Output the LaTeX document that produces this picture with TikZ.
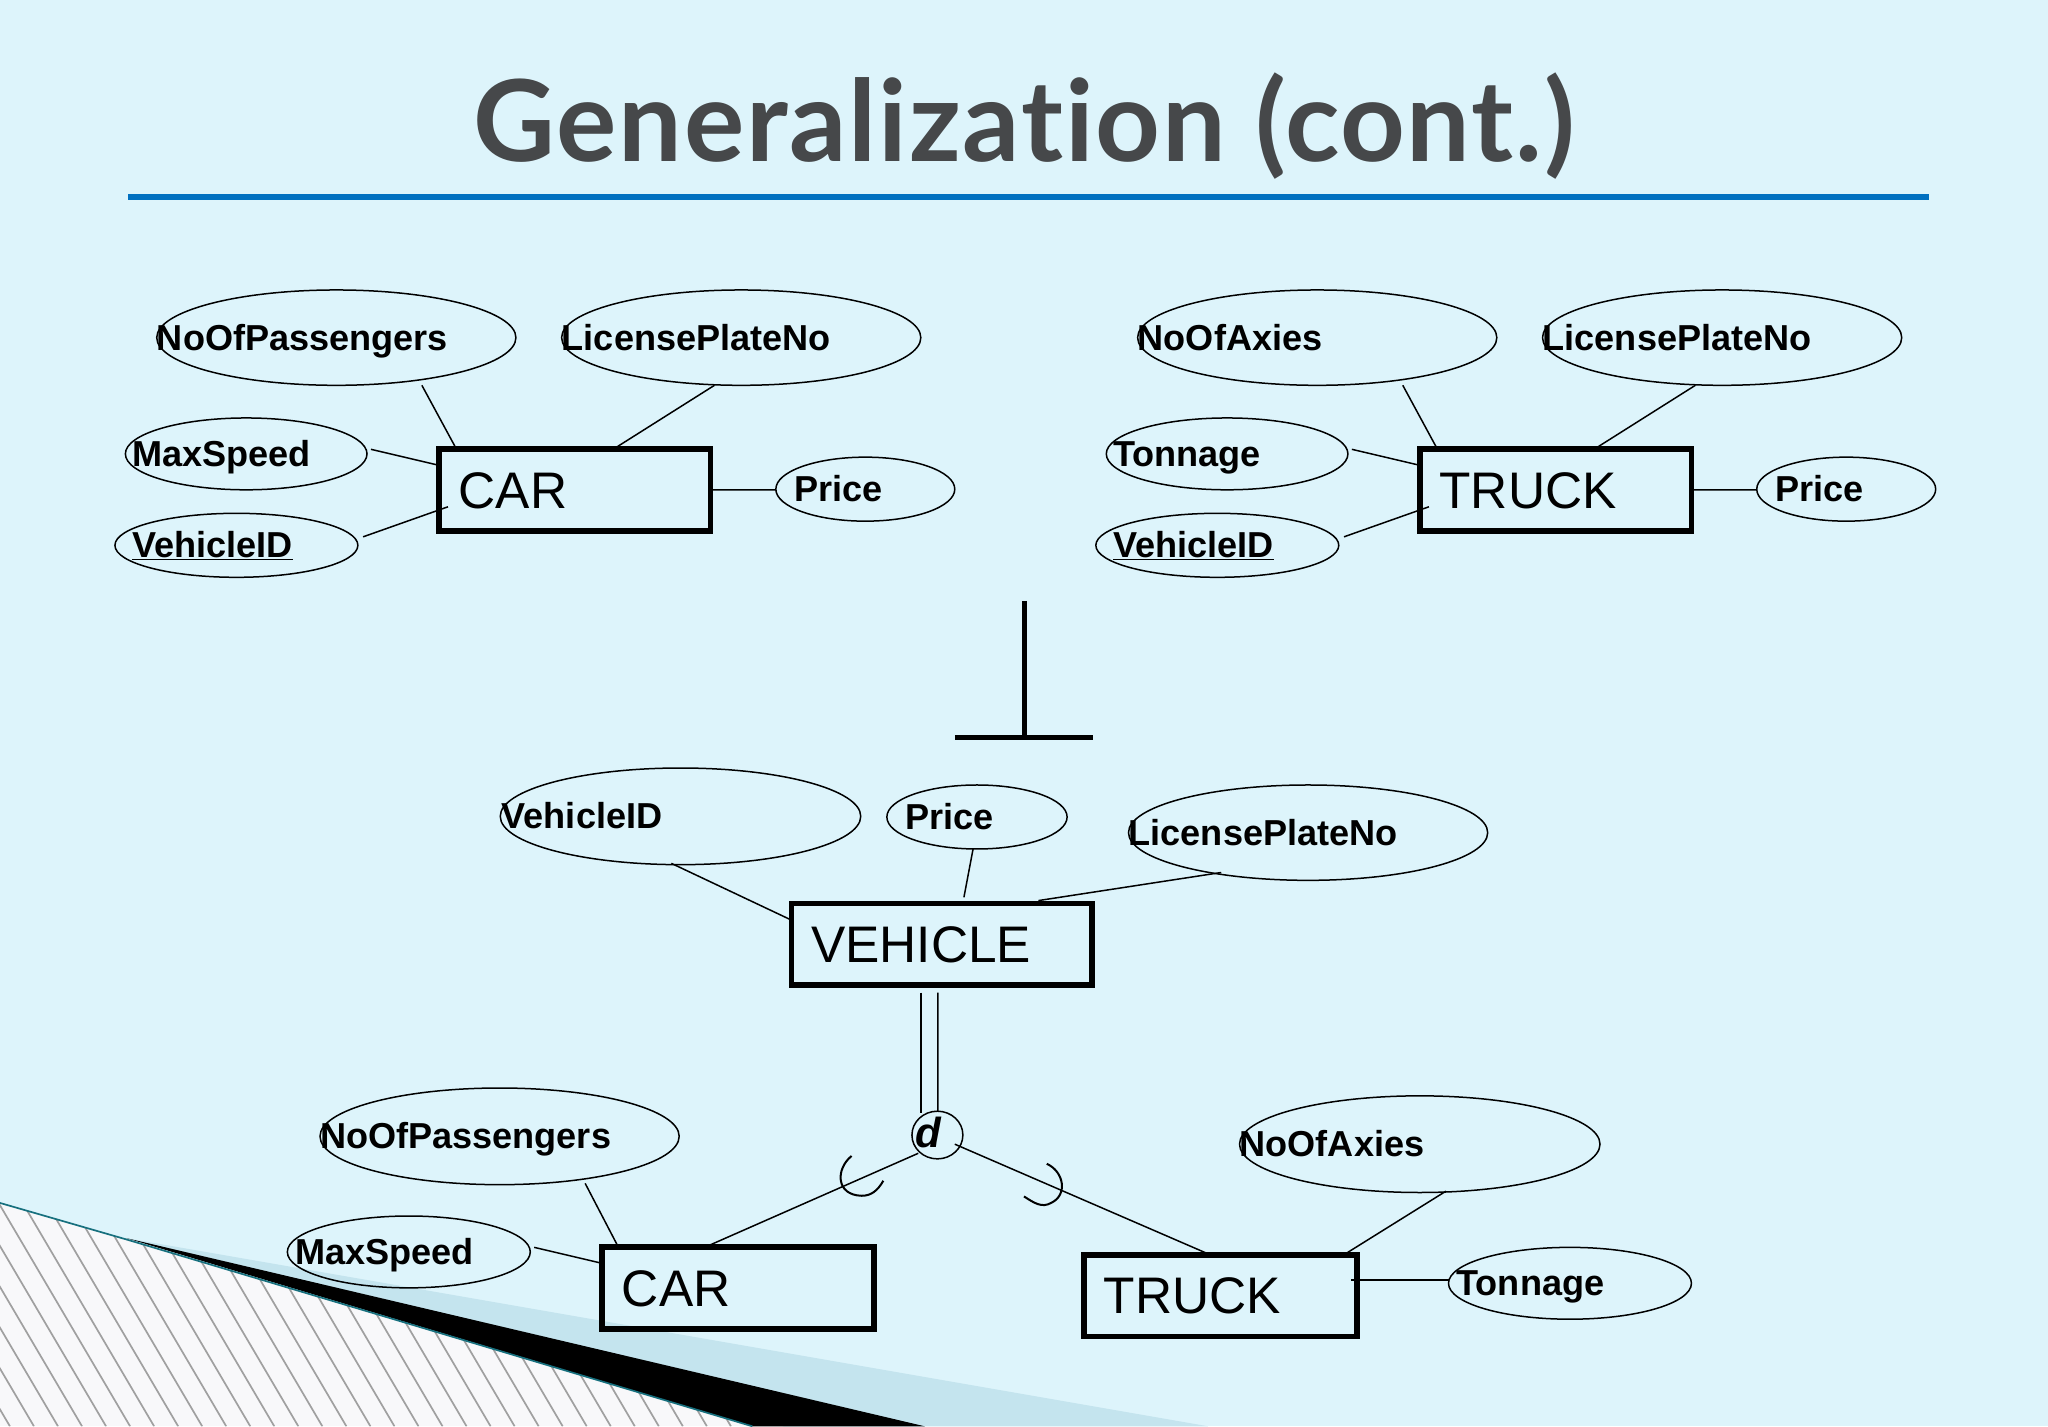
\documentclass[tikz,border=0pt]{standalone}
\usepackage{fontspec}
\setmainfont{Liberation Sans}
\newfontfamily\titlefont{Lato}[Ligatures=NoCommon,LetterSpace=1.6]
\usetikzlibrary{shapes.geometric}
\definecolor{bgc}{HTML}{DDF4FB}
\definecolor{wedgec}{HTML}{C4E4EE}
\definecolor{hatchc}{HTML}{F8F8FA}
\definecolor{stripec}{HTML}{A0A0A0}
\definecolor{tealc}{HTML}{17707E}
\definecolor{titlec}{HTML}{46484A}
\definecolor{rulec}{HTML}{0070C0}
\tikzset{
  attr/.style={draw=black,line width=1.5pt,ellipse,inner sep=0pt,outer sep=0pt},
  ent/.style={draw=black,line width=5.7pt,rectangle,inner sep=0pt,outer sep=0pt},
  conn/.style={draw=black,line width=1.5pt},
  atext/.style={anchor=base west,inner sep=0pt,font=\fontsize{36.1}{36}\selectfont\bfseries},
  etext/.style={anchor=base west,inner sep=0pt,font=\fontsize{51.4}{52}\selectfont},
}
% name, cx, cy, w, h, text x, text
\newcommand{\attrnode}[7]{%
  \node[attr,minimum width=#4*1.3061pt,minimum height=#5*1.3061pt] (#1) at (#2,#3) {};
  \node[atext] (#1t) at (#6,#3+9.6) {#7};
}
% name, cx, cy, w, h, text x, text
\newcommand{\entnode}[7]{%
  \node[ent,minimum width=#4*1.3061pt,minimum height=#5*1.3061pt] (#1) at (#2,#3) {};
  \node[etext] (#1t) at (#6,#3+14) {#7};
}
\newcommand{\link}[4]{%
  \draw[conn] ([shift={(#2)}]#1.center) -- ([shift={(#4)}]#3.center);
}
\begin{document}
\begin{tikzpicture}[x=1.3061pt,y=-1.3061pt]
\useasboundingbox (0,0) rectangle (1568,1092);
\fill[bgc] (0,0) rectangle (1568,1092);
% decoration
\fill[wedgec] (97,948) -- (925,1092) -- (600,1092) -- cycle;
\fill[black] (97,948) -- (708,1092) -- (576,1092) -- cycle;
\begin{scope}
  \clip (0,921) -- (97,949) -- (576,1092) -- (0,1092) -- cycle;
  \fill[hatchc] (0,900) rectangle (600,1092);
  \foreach \i in {-8,...,34}
    \draw[stripec,line width=1.7pt] (-13.4+\i*18.4,900) -- (99.6+\i*18.4,1092);
\end{scope}
\draw[tealc,line width=1.7pt] (0,921) -- (97,949) -- (576,1092);
% title
\node[inner sep=0pt,text=titlec,anchor=base,font=\titlefont\fontsize{113}{113}\selectfont\bfseries] (title) at (784,123.5) {Generalization (cont.)};
\coordinate (ruleL) at (98,150.8);
\coordinate (ruleR) at (1477,150.8);
\draw[rulec,line width=6pt] (ruleL) -- (ruleR);
% CAR group
\entnode{car}{440}{375}{208}{62.6}{351}{CAR}
\attrnode{np}{257.5}{258.5}{275}{73}{120}{NoOfPassengers}
\attrnode{lp}{567.5}{258.5}{275}{73}{430}{LicensePlateNo}
\attrnode{ms}{188.5}{347.5}{185}{55}{101}{MaxSpeed}
\attrnode{vid}{181}{417.5}{186}{49}{101}{\underline{VehicleID}}
\attrnode{pr}{662.5}{374.5}{137}{49}{608}{Price}
\link{np}{65.5,36.5}{car}{-91,-32}
\link{lp}{-20.5,36.5}{car}{31,-32}
\link{ms}{95.5,-3.5}{car}{-105,-19}
\link{vid}{97,-6.5}{car}{-97,13}
\link{pr}{-68.5,0.5}{car}{105,0}
% TRUCK group
\entnode{truck}{1191}{375}{208}{62.6}{1102}{TRUCK}
\attrnode{na}{1008.5}{258.5}{275}{73}{871}{NoOfAxies}
\attrnode{lpb}{1318.5}{258.5}{275}{73}{1181}{LicensePlateNo}
\attrnode{tn}{939.5}{347.5}{185}{55}{852}{Tonnage}
\attrnode{vidb}{932}{417.5}{186}{49}{852}{\underline{VehicleID}}
\attrnode{prb}{1413.5}{374.5}{137}{49}{1359}{Price}
\link{na}{65.5,36.5}{truck}{-91,-32}
\link{lpb}{-20.5,36.5}{truck}{31,-32}
\link{tn}{95.5,-3.5}{truck}{-105,-19}
\link{vidb}{97,-6.5}{truck}{-97,13}
\link{prb}{-68.5,0.5}{truck}{105,0}
% generalization symbol
\coordinate (ta) at (784,460);
\coordinate (tb) at (784,564.5);
\coordinate (tc) at (731,564.5);
\coordinate (td) at (837,564.5);
\draw[line width=5pt] (ta) -- (tb);
\draw[line width=5.5pt] (tc) -- (td);
% VEHICLE group
\entnode{veh}{721}{723}{230}{62.6}{621}{VEHICLE}
\attrnode{vv}{521}{625}{276}{74}{384}{VehicleID}
\attrnode{vp}{748}{625.5}{138}{49}{693}{Price}
\attrnode{vl}{1001.5}{637.5}{275}{73}{864}{LicensePlateNo}
\link{vv}{-7,36}{veh}{-116,-19}
\link{vp}{-3,24.5}{veh}{17,-36}
\link{vl}{-66.5,30.5}{veh}{74,-33.5}
% d circle
\node[attr,minimum width=39*1.3061pt,minimum height=36.5*1.3061pt] (dc) at (717.7,869) {};
\node[inner sep=0pt,font=\fontsize{42}{42}\selectfont\bfseries\itshape] (dt) at (710.7,867) {d};
\link{veh}{-16,37}{dc}{-12.7,-17}
\link{veh}{-3,37}{dc}{0.3,-18}
% lower CAR / TRUCK
\entnode{carb}{565}{986}{208}{62.6}{476}{CAR}
\entnode{truckb}{934.5}{992}{209}{62.6}{845}{TRUCK}
\attrnode{npb}{382.5}{870}{275}{74}{245}{NoOfPassengers}
\attrnode{msb}{313}{958.5}{186}{55}{226}{MaxSpeed}
\attrnode{nab}{1087}{876}{276}{74}{949}{NoOfAxies}
\attrnode{tnb}{1202}{982.5}{186}{55}{1115}{Tonnage}
\link{dc}{-14.7,14}{carb}{-21,-33}
\link{dc}{13.3,7}{truckb}{-9.5,-32}
\link{npb}{65.5,36}{carb}{-92,-32}
\link{msb}{96,-3.5}{carb}{-105,-19}
\link{nab}{20,36}{truckb}{95.5,-32}
\link{tnb}{-93,-2.5}{truckb}{99.5,-12}
% subset arcs
\draw[conn,line width=2pt] ([shift={(-65.7,16)}]dc.center) .. controls ([shift={(-78,26)}]dc.center) and ([shift={(-78,46)}]dc.center) .. ([shift={(-58,46.5)}]dc.center) .. controls ([shift={(-51,46.5)}]dc.center) and ([shift={(-46,43)}]dc.center) .. ([shift={(-41.4,35)}]dc.center);
\draw[conn,line width=2pt] ([shift={(83.7,22)}]dc.center) .. controls ([shift={(97,28)}]dc.center) and ([shift={(100,46)}]dc.center) .. ([shift={(87,52)}]dc.center) .. controls ([shift={(80,56)}]dc.center) and ([shift={(74,52)}]dc.center) .. ([shift={(66.3,47)}]dc.center);
\end{tikzpicture}
\end{document}
